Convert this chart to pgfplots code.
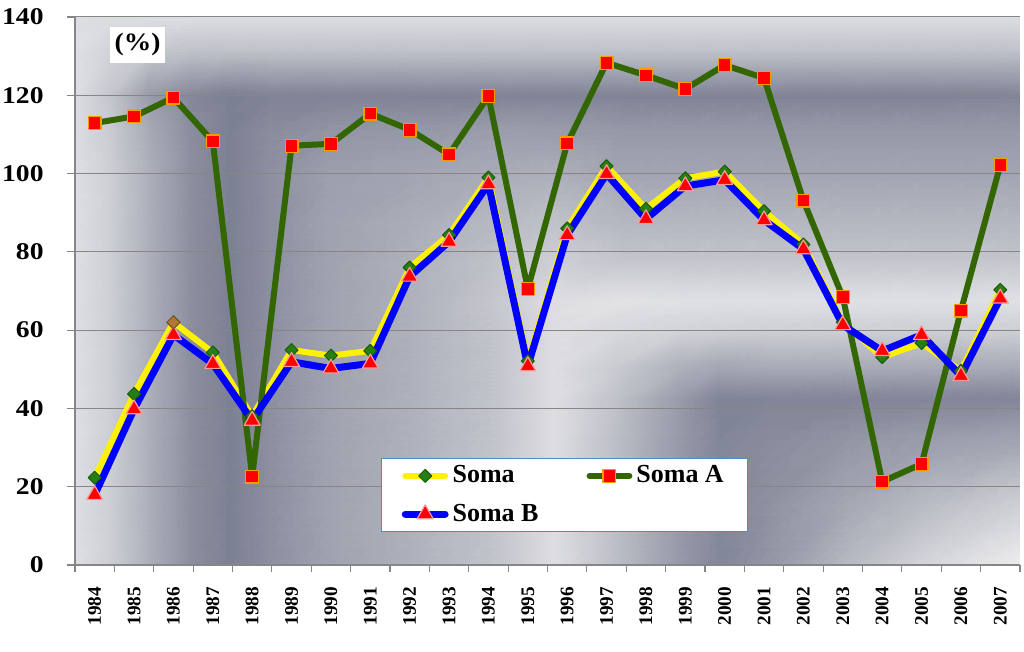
\documentclass[border=0pt]{standalone}
\usepackage{pgfplots}
\pgfplotsset{compat=1.18}
\usepackage{fontspec}
\setmainfont{Liberation Serif}

\definecolor{somaA}{HTML}{336600}
\definecolor{diagreen}{HTML}{267F12}
\definecolor{diabrown}{HTML}{B07838}
\definecolor{sqedge}{HTML}{FF9900}
\definecolor{triedge}{HTML}{FF9999}
\definecolor{axgray}{HTML}{868686}
\definecolor{legblue}{HTML}{5B87C5}

\pgfplotstableread{
x soma somaA somaB
0 22.3 112.9 17.9
1 43.7 114.6 39.8
2 62.0 119.4 58.8
3 54.3 108.2 51.4
4 38.0 22.6 36.9
5 54.9 107.1 51.9
6 53.5 107.6 50.2
7 54.7 115.3 51.5
8 76.0 111.2 73.7
9 84.3 104.9 82.6
10 99.0 119.8 97.3
11 52.1 70.5 50.8
12 86.0 107.7 84.3
13 101.9 128.3 99.9
14 91.0 125.1 88.4
15 98.8 121.6 96.8
16 100.5 127.7 98.4
17 90.4 124.4 88.1
18 81.9 93.1 80.7
19 62.0 68.4 61.3
20 53.1 21.3 54.7
21 56.7 25.8 58.8
22 49.6 65.0 48.3
23 70.3 102.2 68.1
}\datatable

\begin{document}
\begin{tikzpicture}
\begin{axis}[
  set layers,
  at={(0,0)}, anchor=south west,
  scale only axis, width=472.5pt, height=274pt,
  xmin=-0.5, xmax=23.5, ymin=0, ymax=140,
  xtick={0,...,23},
  xticklabels={1984,1985,1986,1987,1988,1989,1990,1991,1992,1993,1994,1995,1996,1997,1998,1999,2000,2001,2002,2003,2004,2005,2006,2007},
  minor xtick={-0.5,0.5,...,23.5},
  ytick={0,20,...,140},
  yticklabel={\scalebox{1.15}[1]{\pgfmathprintnumber{\tick}}},
  axis x line*=bottom, axis y line*=left,
  axis line style={draw=axgray, line width=0.6pt},
  tick align=outside,
  major tick length=4pt, minor tick length=3.5pt,
  tick style={draw=axgray, line width=0.6pt},
  major x tick style={draw=none},
  ymajorgrids, grid style={draw=axgray, line width=0.5pt},
  /pgf/number format/assume math mode=true,
  yticklabel style={font=\fontsize{12}{14}\selectfont\bfseries, inner sep=0pt, xshift=-11.5pt},
  xticklabel style={font=\fontsize{9.6}{11}\selectfont\bfseries, rotate=90, anchor=east, xshift=-3.5pt},
  legend columns=2,
  legend cell align=left,
  legend image code/.code={\draw[mark repeat=2, mark phase=2, line cap=round]
     plot coordinates {(0cm,0cm) (0.35cm,0cm) (0.7cm,0cm)};},
  legend style={at={(0.324,0.195)}, anchor=north west, draw=legblue, line width=0.6pt, fill=white,
    font=\fontsize{13}{15}\selectfont\bfseries, inner xsep=10pt, inner ysep=1.5pt, row sep=5pt,
    /tikz/every even column/.append style={column sep=22pt}},
]
% background gradient (colour mesh)
\addplot[surf, shader=interp, forget plot, on layer=axis background,
  mesh/color input=explicit, mesh/cols=17, mesh/rows=14] table[meta=c] {
x y c
-0.5 140 rgb255=222,223,227
0.389 140 rgb255=219,220,224
1.405 140 rgb255=220,221,225
2.421 140 rgb255=220,221,225
3.437 140 rgb255=220,221,225
4.452 140 rgb255=220,221,225
5.976 140 rgb255=220,221,225
8.262 140 rgb255=220,221,225
10.294 140 rgb255=220,221,225
11.690 140 rgb255=220,221,225
13.341 140 rgb255=220,221,225
14.865 140 rgb255=220,221,225
15.881 140 rgb255=220,221,225
17.151 140 rgb255=220,221,225
19.183 140 rgb255=220,221,225
21.214 140 rgb255=220,221,225
23.5 140 rgb255=220,221,225
-0.5 131.57 rgb255=222,223,227
0.389 131.57 rgb255=210,211,216
1.405 131.57 rgb255=198,200,207
2.421 131.57 rgb255=193,195,203
3.437 131.57 rgb255=193,195,203
4.452 131.57 rgb255=193,195,203
5.976 131.57 rgb255=193,195,203
8.262 131.57 rgb255=193,195,203
10.294 131.57 rgb255=193,195,203
11.690 131.57 rgb255=193,195,203
13.341 131.57 rgb255=193,195,203
14.865 131.57 rgb255=193,195,203
15.881 131.57 rgb255=193,195,203
17.151 131.57 rgb255=193,195,203
19.183 131.57 rgb255=193,195,203
21.214 131.57 rgb255=193,195,203
23.5 131.57 rgb255=193,195,203
-0.5 120.07 rgb255=221,222,226
0.389 120.07 rgb255=196,198,205
1.405 120.07 rgb255=152,155,169
2.421 120.07 rgb255=132,136,153
3.437 120.07 rgb255=124,128,147
4.452 120.07 rgb255=128,132,150
5.976 120.07 rgb255=128,132,150
8.262 120.07 rgb255=128,132,150
10.294 120.07 rgb255=128,132,150
11.690 120.07 rgb255=128,132,150
13.341 120.07 rgb255=128,132,150
14.865 120.07 rgb255=128,132,150
15.881 120.07 rgb255=128,132,150
17.151 120.07 rgb255=128,132,150
19.183 120.07 rgb255=128,132,150
21.214 120.07 rgb255=128,132,150
23.5 120.07 rgb255=130,134,152
-0.5 111.13 rgb255=221,222,226
0.389 111.13 rgb255=202,204,210
1.405 111.13 rgb255=167,170,181
2.421 111.13 rgb255=139,142,158
3.437 111.13 rgb255=124,128,147
4.452 111.13 rgb255=138,141,157
5.976 111.13 rgb255=147,150,164
8.262 111.13 rgb255=150,153,167
10.294 111.13 rgb255=155,158,171
11.690 111.13 rgb255=153,156,169
13.341 111.13 rgb255=150,153,167
14.865 111.13 rgb255=150,153,167
15.881 111.13 rgb255=150,153,167
17.151 111.13 rgb255=150,153,167
19.183 111.13 rgb255=150,153,167
21.214 111.13 rgb255=150,153,167
23.5 111.13 rgb255=150,153,167
-0.5 100.91 rgb255=222,223,227
0.389 100.91 rgb255=205,207,213
1.405 100.91 rgb255=172,175,186
2.421 100.91 rgb255=140,143,158
3.437 100.91 rgb255=124,128,147
4.452 100.91 rgb255=140,143,160
5.976 100.91 rgb255=156,159,172
8.262 100.91 rgb255=163,166,178
10.294 100.91 rgb255=170,173,184
11.690 100.91 rgb255=172,175,185
13.341 100.91 rgb255=162,165,177
14.865 100.91 rgb255=162,165,177
15.881 100.91 rgb255=162,165,177
17.151 100.91 rgb255=162,165,177
19.183 100.91 rgb255=162,165,177
21.214 100.91 rgb255=162,165,177
23.5 100.91 rgb255=162,165,177
-0.5 88.14 rgb255=222,223,227
0.389 88.14 rgb255=205,207,213
1.405 88.14 rgb255=172,175,186
2.421 88.14 rgb255=140,143,158
3.437 88.14 rgb255=124,128,147
4.452 88.14 rgb255=140,143,160
5.976 88.14 rgb255=160,163,175
8.262 88.14 rgb255=172,174,185
10.294 88.14 rgb255=184,186,195
11.690 88.14 rgb255=192,194,201
13.341 88.14 rgb255=180,182,192
14.865 88.14 rgb255=180,182,192
15.881 88.14 rgb255=180,182,192
17.151 88.14 rgb255=180,182,192
19.183 88.14 rgb255=180,182,192
21.214 88.14 rgb255=180,182,192
23.5 88.14 rgb255=180,182,192
-0.5 77.92 rgb255=222,223,227
0.389 77.92 rgb255=205,207,213
1.405 77.92 rgb255=172,175,186
2.421 77.92 rgb255=140,143,158
3.437 77.92 rgb255=124,128,147
4.452 77.92 rgb255=140,143,160
5.976 77.92 rgb255=160,163,175
8.262 77.92 rgb255=176,178,189
10.294 77.92 rgb255=194,196,203
11.690 77.92 rgb255=206,207,213
13.341 77.92 rgb255=196,198,205
14.865 77.92 rgb255=196,198,205
15.881 77.92 rgb255=196,198,205
17.151 77.92 rgb255=196,198,205
19.183 77.92 rgb255=196,198,205
21.214 77.92 rgb255=196,198,205
23.5 77.92 rgb255=196,198,205
-0.5 67.70 rgb255=222,223,227
0.389 67.70 rgb255=205,207,213
1.405 67.70 rgb255=172,175,186
2.421 67.70 rgb255=140,143,158
3.437 67.70 rgb255=124,128,147
4.452 67.70 rgb255=140,143,160
5.976 67.70 rgb255=160,163,175
8.262 67.70 rgb255=176,178,189
10.294 67.70 rgb255=200,201,207
11.690 67.70 rgb255=222,222,226
13.341 67.70 rgb255=226,226,229
14.865 67.70 rgb255=223,224,227
15.881 67.70 rgb255=223,224,227
17.151 67.70 rgb255=223,224,227
19.183 67.70 rgb255=223,224,227
21.214 67.70 rgb255=223,224,227
23.5 67.70 rgb255=223,224,227
-0.5 60.04 rgb255=222,223,227
0.389 60.04 rgb255=205,207,213
1.405 60.04 rgb255=172,175,186
2.421 60.04 rgb255=140,143,158
3.437 60.04 rgb255=124,128,147
4.452 60.04 rgb255=140,143,160
5.976 60.04 rgb255=160,163,175
8.262 60.04 rgb255=176,178,189
10.294 60.04 rgb255=196,198,205
11.690 60.04 rgb255=222,222,226
13.341 60.04 rgb255=214,215,219
14.865 60.04 rgb255=210,211,216
15.881 60.04 rgb255=208,209,214
17.151 60.04 rgb255=206,207,213
19.183 60.04 rgb255=206,207,213
21.214 60.04 rgb255=206,207,213
23.5 60.04 rgb255=206,207,213
-0.5 51.09 rgb255=222,223,227
0.389 51.09 rgb255=205,207,213
1.405 51.09 rgb255=172,175,186
2.421 51.09 rgb255=140,143,158
3.437 51.09 rgb255=124,128,147
4.452 51.09 rgb255=140,143,160
5.976 51.09 rgb255=160,163,175
8.262 51.09 rgb255=176,178,189
10.294 51.09 rgb255=196,198,205
11.690 51.09 rgb255=222,222,226
13.341 51.09 rgb255=200,202,208
14.865 51.09 rgb255=175,178,188
15.881 51.09 rgb255=165,168,180
17.151 51.09 rgb255=170,173,184
19.183 51.09 rgb255=170,173,184
21.214 51.09 rgb255=170,173,184
23.5 51.09 rgb255=170,173,184
-0.5 42.66 rgb255=222,223,227
0.389 42.66 rgb255=205,207,213
1.405 42.66 rgb255=172,175,186
2.421 42.66 rgb255=140,143,158
3.437 42.66 rgb255=124,128,147
4.452 42.66 rgb255=140,143,160
5.976 42.66 rgb255=160,163,175
8.262 42.66 rgb255=176,178,189
10.294 42.66 rgb255=196,198,205
11.690 42.66 rgb255=222,222,226
13.341 42.66 rgb255=190,192,200
14.865 42.66 rgb255=152,155,169
15.881 42.66 rgb255=128,132,151
17.151 42.66 rgb255=130,134,152
19.183 42.66 rgb255=130,134,152
21.214 42.66 rgb255=130,134,152
23.5 42.66 rgb255=130,134,152
-0.5 31.93 rgb255=222,223,227
0.389 31.93 rgb255=205,207,213
1.405 31.93 rgb255=172,175,186
2.421 31.93 rgb255=140,143,158
3.437 31.93 rgb255=124,128,147
4.452 31.93 rgb255=140,143,160
5.976 31.93 rgb255=160,163,175
8.262 31.93 rgb255=176,178,189
10.294 31.93 rgb255=196,198,205
11.690 31.93 rgb255=222,222,226
13.341 31.93 rgb255=186,188,197
14.865 31.93 rgb255=150,153,167
15.881 31.93 rgb255=131,135,154
17.151 31.93 rgb255=138,141,157
19.183 31.93 rgb255=148,151,165
21.214 31.93 rgb255=155,158,171
23.5 31.93 rgb255=162,165,177
-0.5 16.61 rgb255=222,223,227
0.389 16.61 rgb255=205,207,213
1.405 16.61 rgb255=172,175,186
2.421 16.61 rgb255=140,143,158
3.437 16.61 rgb255=124,128,147
4.452 16.61 rgb255=140,143,160
5.976 16.61 rgb255=160,163,175
8.262 16.61 rgb255=176,178,189
10.294 16.61 rgb255=196,198,205
11.690 16.61 rgb255=222,222,226
13.341 16.61 rgb255=186,188,197
14.865 16.61 rgb255=150,153,167
15.881 16.61 rgb255=131,135,154
17.151 16.61 rgb255=142,145,160
19.183 16.61 rgb255=165,168,179
21.214 16.61 rgb255=185,187,196
23.5 16.61 rgb255=205,206,212
-0.5 0 rgb255=222,223,227
0.389 0 rgb255=205,207,213
1.405 0 rgb255=172,175,186
2.421 0 rgb255=140,143,158
3.437 0 rgb255=124,128,147
4.452 0 rgb255=140,143,160
5.976 0 rgb255=160,163,175
8.262 0 rgb255=176,178,189
10.294 0 rgb255=196,198,205
11.690 0 rgb255=222,222,226
13.341 0 rgb255=186,188,197
14.865 0 rgb255=150,153,167
15.881 0 rgb255=131,135,154
17.151 0 rgb255=148,151,165
19.183 0 rgb255=185,187,196
21.214 0 rgb255=215,216,220
23.5 0 rgb255=238,238,239
};

\addplot[draw=yellow, line width=3pt, line join=round, line cap=round, mark=square*, mark size=2.3pt,
  mark options={solid, rotate=45, fill=diagreen, draw=diagreen!70!black, line width=0.5pt}]
  table[x=x, y=soma] {\datatable};
\addlegendentry{Soma}
\addplot[draw=somaA, line width=3pt, line join=round, line cap=round, mark=square*, mark size=3.2pt,
  mark options={solid, fill=red, draw=sqedge, line width=0.6pt}]
  table[x=x, y=somaA] {\datatable};
\addlegendentry{Soma A}
\addplot[draw=blue, line width=3.5pt, line join=round, line cap=round, mark=triangle*, mark size=4.6pt,
  mark options={solid, fill=red, draw=triedge, line width=0.6pt}]
  table[x=x, y=somaB] {\datatable};
\addlegendentry{Soma B}
\addplot[forget plot, only marks, mark=square*, mark size=2.3pt,
  mark options={rotate=45, fill=diabrown, draw=diabrown!70!black, line width=0.5pt}]
  coordinates {(2,62.0)};

\node[fill=white, inner sep=0pt, minimum width=27.5pt, minimum height=18pt,
  font=\fontsize{12.5}{14}\selectfont\bfseries] at (axis cs:1.09,132.9) {\scalebox{1.1}[1]{(\%)}};
\end{axis}
\path (-37.5pt,-43.5pt) rectangle (474.5pt,282.5pt);
\end{tikzpicture}
\end{document}
